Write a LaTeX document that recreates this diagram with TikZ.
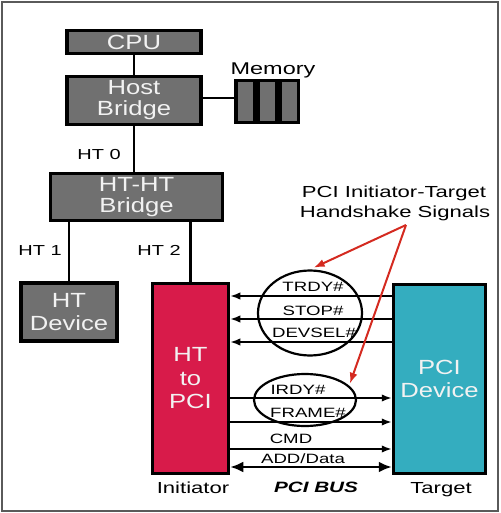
\documentclass[tikz,border=0pt]{standalone}
\usepackage{fontspec}
\setmainfont{Liberation Sans}
\newfontfamily\boxfont[FakeStretch=1.25]{Liberation Sans}
\newfontfamily\lblfont[FakeStretch=1.38]{Liberation Sans}
\usetikzlibrary{arrows.meta,shapes.geometric}
\definecolor{boxgray}{HTML}{707070}
\definecolor{htred}{HTML}{D81B4A}
\definecolor{pciteal}{HTML}{34ADBF}
\definecolor{arrred}{HTML}{D42A20}
\definecolor{framegray}{HTML}{5A5A5A}
\definecolor{boxtext}{HTML}{F2F2F2}
\begin{document}
\begin{tikzpicture}[x=1pt,y=-1pt,
  gbox/.style={draw=black, line width=3.5pt, fill=boxgray, text=boxtext, align=center,
    font=\boxfont\fontsize{20.5}{21}\selectfont, inner sep=0pt},
  conn/.style={draw=black, line width=2.8pt},
  sig/.style={draw=black, line width=1.9pt, >={Latex[length=10pt,width=7.5pt]}},
  ring/.style={draw=black, line width=2.2pt, ellipse, inner sep=0pt},
  lbl/.style={anchor=base, inner sep=0pt, text=black, font=\lblfont\fontsize{13.5}{15}\selectfont},
  redarr/.style={draw=arrred, line width=2pt, -{Latex[length=11pt,width=8pt]}}]
\useasboundingbox (0,0) rectangle (500,513);
\draw[framegray, line width=1.5pt] (2,2) rectangle (498,511);

% boxes
\node[gbox, minimum width=134, minimum height=23] (cpu) at (134,42) {CPU};
\node[gbox, minimum width=134, minimum height=48] (host) at (134,100.5) {Host\\Bridge};
\node[gbox, minimum width=172, minimum height=47] (htht) at (136.5,197) {HT-HT\\Bridge};
\node[gbox, line width=4.5pt, minimum width=96, minimum height=58,
  font=\boxfont\fontsize{20.5}{23}\selectfont] (htdev) at (69,312) {HT\\Device};
\node[gbox, fill=htred, minimum width=76, minimum height=190,
  font=\boxfont\fontsize{20.5}{23.5}\selectfont] (htpci) at (190.5,378.5) {HT\\to\\PCI};
\node[gbox, fill=pciteal, minimum width=92, minimum height=189,
  font=\boxfont\fontsize{20.5}{23}\selectfont] (pcidev) at (439.5,379) {PCI\\Device};
\node[gbox, minimum width=18.5, minimum height=42] (mem1) at (245,101.5) {};
\node[gbox, minimum width=18.5, minimum height=42] (mem2) at (267,101.5) {};
\node[gbox, minimum width=18.5, minimum height=42] (mem3) at (289,101.5) {};

% tree connectors
\draw[conn] (cpu.south) -- (host.north);
\draw[conn] (host.south) -- (host.south |- htht.north);
\draw[conn] (htdev.north) -- (htdev.north |- htht.south);
\draw[conn] (htpci.north) -- (htpci.north |- htht.south);
\draw[conn] (host.east |- 0,98) -- (mem1.west |- 0,98);

% labels
\node[lbl, font=\lblfont\fontsize{17}{19}\selectfont] (memlbl) at (273,75) {Memory};
\node[lbl, font=\lblfont\fontsize{14.5}{16}\selectfont] (ht0) at (99,159) {HT 0};
\node[lbl, font=\lblfont\fontsize{14.5}{16}\selectfont] (ht1) at (40,255) {HT 1};
\node[lbl, font=\lblfont\fontsize{14.5}{16}\selectfont] (ht2) at (159,255) {HT 2};
\node[lbl, font=\lblfont\fontsize{16}{18}\selectfont] (hs1) at (394,197) {PCI Initiator-Target};
\node[lbl, font=\lblfont\fontsize{16}{18}\selectfont] (hs2) at (395,217) {Handshake Signals};
\node[lbl, font=\lblfont\fontsize{16}{18}\selectfont] (init) at (193,493) {Initiator};
\node[lbl, font=\lblfont\fontsize{16}{18}\selectfont] (targ) at (441,493) {Target};
\node[lbl, font=\lblfont\bfseries\itshape\fontsize{15}{17}\selectfont] (bus) at (316,492) {PCI BUS};

% signal lines
\draw[sig, <-] (htpci.east |- 0,296) -- (pcidev.west |- 0,296);
\draw[sig, <-] (htpci.east |- 0,319) -- (pcidev.west |- 0,319);
\draw[sig, <-] (htpci.east |- 0,342) -- (pcidev.west |- 0,342);
\draw[sig, ->] (htpci.east |- 0,398) -- (pcidev.west |- 0,398);
\draw[sig, ->] (htpci.east |- 0,422) -- (pcidev.west |- 0,422);
\draw[sig, ->] (htpci.east |- 0,449) -- (pcidev.west |- 0,449);
\draw[sig, line width=2.8pt, {Latex[length=13pt,width=11pt]}-{Latex[length=13pt,width=11pt]}]
  (htpci.east |- 0,467) -- (pcidev.west |- 0,467);

\node[lbl] (trdy) at (313,291) {TRDY\#};
\node[lbl] (stop) at (313,315) {STOP\#};
\node[lbl] (devsel) at (314,337) {DEVSEL\#};
\node[lbl] (irdy) at (298,394) {IRDY\#};
\node[lbl] (frame) at (308,417) {FRAME\#};
\node[lbl] (cmd) at (291,443) {CMD};
\node[lbl] (add) at (303,463) {ADD/Data};

% ellipses
\node[ring, minimum width=104, minimum height=85] (ell1) at (310,313) {};
\node[ring, minimum width=102, minimum height=52] (ell2) at (305,400) {};

% red pointers
\coordinate (hsfoot) at (406,225);
\draw[redarr, shorten >=4pt] (hsfoot) -- (ell1.north);
\draw[redarr, shorten >=2pt] (hsfoot) -- (ell2.18);
\end{tikzpicture}
\end{document}
